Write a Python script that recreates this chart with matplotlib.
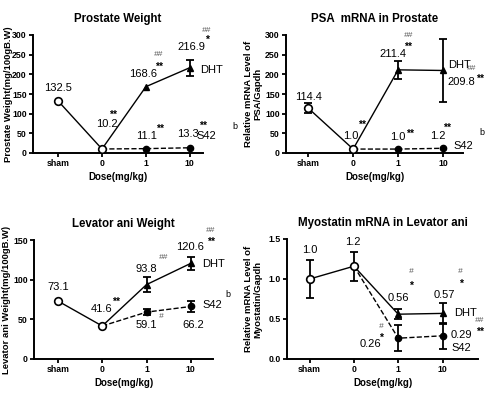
import numpy as np
import matplotlib
matplotlib.use('Agg')
import matplotlib.pyplot as plt

plt.rcParams['font.family'] = ['Liberation Sans', 'DejaVu Sans']

doses = ['sham', '0', '1', '10']

# Prostate weight (mg/100gB.W)
pw_ctrl = [132.5, 10.2]          # sham, vehicle
pw_ctrl_err = [0, 0]
pw_dht = [168.6, 216.9]          # 1, 10 mg/kg
pw_dht_err = [0, 20]
pw_s42 = [11.1, 13.3]
pw_s42_err = [0, 0]

# PSA mRNA in prostate
psa_ctrl = [114.4, 10]
psa_ctrl_err = [12, 0]
psa_dht = [211.4, 209.8]
psa_dht_err = [22, 80]
psa_s42 = [10, 12]
psa_s42_err = [0, 0]
psa_ctrl_lbl = ['114.4', '1.0']
psa_s42_lbl = ['1.0', '1.2']

# Levator ani weight
la_ctrl = [73.1, 41.6]
la_ctrl_err = [0, 0]
la_dht = [93.8, 120.6]
la_dht_err = [9, 8]
la_s42 = [59.1, 66.2]
la_s42_err = [4, 6.5]

# Myostatin mRNA in levator ani
my_ctrl = [1.0, 1.16]
my_ctrl_err = [0.24, 0.18]
my_dht = [0.56, 0.57]
my_dht_err = [0.06, 0.13]
my_s42 = [0.26, 0.29]
my_s42_err = [0.16, 0.16]
my_ctrl_lbl = ['1.0', '1.2']


def draw_panel(ax, ctrl, ctrl_err, dht, dht_err, s42, s42_err, title, ylabel, ylim, yticks, yfmt, ylab_x):
    x = np.arange(len(doses))
    # solid: sham -> vehicle -> DHT ; dashed: vehicle -> S42
    ax.plot(x, ctrl + dht, color='black', lw=1.0, zorder=2)
    ax.plot(x[1:], [ctrl[1]] + s42, color='black', lw=1.0, ls='--', zorder=2)
    for xs, ys, es in [(x[:2], ctrl, ctrl_err), (x[2:], dht, dht_err), (x[2:], s42, s42_err)]:
        es = np.array(es)
        m = es > 0
        if m.any():
            ax.errorbar(np.array(xs)[m], np.array(ys)[m], yerr=es[m], fmt='none',
                        ecolor='black', elinewidth=1.3, capsize=2.6, capthick=1.3, zorder=3)
    ax.plot(x[2:], dht, ls='none', marker='^', ms=4.5, color='black', zorder=4)
    ax.plot(x[2:], s42, ls='none', marker='o', ms=4.5, color='black', zorder=4)
    ax.plot(x[:2], ctrl, ls='none', marker='o', ms=5.5, mfc='white', mec='black', mew=1.2, zorder=5)

    ax.set_ylim(*ylim)
    ax.set_xticks(x)
    ax.set_xticklabels(doses)
    ax.set_yticks(yticks)
    ax.set_yticklabels([yfmt.format(v) for v in yticks])
    ax.spines['top'].set_visible(False)
    ax.spines['right'].set_visible(False)
    for s in ['left', 'bottom']:
        ax.spines[s].set_linewidth(1.4)
    ax.tick_params(width=1.3, length=3, labelsize=6.3, pad=1.5)
    for lab in ax.get_xticklabels() + ax.get_yticklabels():
        lab.set_fontweight('bold')
    ax.set_title(title, fontsize=8.3, fontweight='bold', pad=9.5)
    ax.set_xlabel('Dose(mg/kg)', fontsize=7, fontweight='bold', labelpad=3)
    ax.set_ylabel(ylabel, fontsize=6.8, fontweight='bold', linespacing=1.0)
    ax.yaxis.set_label_coords(ylab_x, 0.5)
    return {'sham': (0, ctrl[0]), 'veh': (1, ctrl[1]),
            'd1': (2, dht[0]), 'd10': (3, dht[1]),
            's1': (2, s42[0]), 's10': (3, s42[1])}


def note(ax, pts, items):
    # items: (text, anchor, dx px, dy px, kind)
    for txt, key, dx, dy, kind in items:
        kw = dict(xy=pts[key], xycoords='data', xytext=(dx, dy), textcoords='offset pixels',
                  va='center', ha='center', annotation_clip=False, zorder=6)
        if kind == 'num':
            kw.update(fontsize=8)
        elif kind in ('numL', 'name'):
            kw.update(fontsize=8, ha='left')
        elif kind == 'star':
            kw.update(fontsize=7.5, fontweight='bold')
            kw['xytext'] = (dx, dy - 2.5)
        elif kind == 'hash':
            kw.update(fontsize=6, color='#555555', style='italic')
        elif kind == 'b':
            kw.update(fontsize=6.5)
        ax.annotate(txt, **kw)


fig = plt.figure(figsize=(4.9, 3.95), dpi=100)

ax1 = fig.add_axes([33 / 490, 242 / 395, 170 / 490, 118 / 395])
ax1.set_xlim(-0.57, 3.30)
p1 = draw_panel(ax1, pw_ctrl, pw_ctrl_err, pw_dht, pw_dht_err, pw_s42, pw_s42_err,
                'Prostate Weight', 'Prostate Weight(mg/100gB.W)', (0, 300),
                [0, 50, 100, 150, 200, 250, 300], '{:g}', -0.12)
note(ax1, p1, [
    (f'{pw_ctrl[0]}', 'sham', 0, 13, 'num'),
    (f'{pw_ctrl[1]}', 'veh', 5, 25, 'num'),
    ('**', 'veh', 11, 37, 'star'),
    (f'{pw_dht[0]}', 'd1', -3, 13, 'num'),
    ('**', 'd1', 13, 22, 'star'),
    ('##', 'd1', 13, 32, 'hash'),
    (f'{pw_dht[1]}', 'd10', 2, 21, 'num'),
    ('*', 'd10', 17, 30, 'star'),
    ('##', 'd10', 17, 37, 'hash'),
    ('DHT', 'd10', 10, -2, 'name'),
    (f'{pw_s42[0]}', 's1', 1, 13, 'num'),
    ('**', 's1', 14, 22, 'star'),
    (f'{pw_s42[1]}', 's10', -2, 14, 'num'),
    ('**', 's10', 13, 24, 'star'),
    ('S42', 's10', 7, 12, 'name'),
    ('b', 's10', 45, 21, 'b'),
])

ax2 = fig.add_axes([286 / 490, 242 / 395, 177 / 490, 118 / 395])
ax2.set_xlim(-0.49, 3.44)
p2 = draw_panel(ax2, psa_ctrl, psa_ctrl_err, psa_dht, psa_dht_err, psa_s42, psa_s42_err,
                'PSA  mRNA in Prostate', 'Relative mRNA Level of\nPSA/Gapdh', (0, 300),
                [0, 50, 100, 150, 200, 250, 300], '{:g}', -0.135)
note(ax2, p2, [
    (psa_ctrl_lbl[0], 'sham', 0, 11.5, 'num'),
    (psa_ctrl_lbl[1], 'veh', -2, 13, 'num'),
    ('**', 'veh', 9, 27, 'star'),
    (f'{psa_dht[0]}', 'd1', -5, 16, 'num'),
    ('**', 'd1', 10, 26, 'star'),
    ('##', 'd1', 10, 34, 'hash'),
    ('DHT', 'd10', 5, 5, 'name'),
    ('##', 'd10', 28, 2, 'hash'),
    (f'{psa_dht[1]}', 'd10', 4, -12, 'numL'),
    ('**', 'd10', 37, -6, 'star'),
    (psa_s42_lbl[0], 's1', 0, 12, 'num'),
    ('**', 's1', 12, 18, 'star'),
    (psa_s42_lbl[1], 's10', -5, 12.5, 'num'),
    ('**', 's10', 4, 22.5, 'star'),
    ('S42', 's10', 10, 2.5, 'name'),
    ('b', 's10', 39, 16, 'b'),
])

ax3 = fig.add_axes([34 / 490, 36 / 395, 179 / 490, 119 / 395])
ax3.set_xlim(-0.54, 3.50)
p3 = draw_panel(ax3, la_ctrl, la_ctrl_err, la_dht, la_dht_err, la_s42, la_s42_err,
                'Levator ani Weight', 'Levator ani Weight(mg/100gB.W)', (0, 150),
                [0, 50, 100, 150], '{:g}', -0.13)
note(ax3, p3, [
    (f'{la_ctrl[0]}', 'sham', 0, 14, 'num'),
    (f'{la_ctrl[1]}', 'veh', -1, 17, 'num'),
    ('**', 'veh', 14, 27, 'star'),
    (f'{la_dht[0]}', 'd1', 0, 16, 'num'),
    ('##', 'd1', 17, 27, 'hash'),
    (f'{la_dht[1]}', 'd10', -1, 16, 'num'),
    ('**', 'd10', 20, 24, 'star'),
    ('##', 'd10', 20, 33, 'hash'),
    ('DHT', 'd10', 11, -0.5, 'name'),
    ('S42', 's10', 12, 1.5, 'name'),
    ('b', 's10', 37, 11.5, 'b'),
    (f'{la_s42[0]}', 's1', 0, -13, 'num'),
    ('#', 's1', 15, -4, 'hash'),
    (f'{la_s42[1]}', 's10', 2, -18.5, 'num'),
])

ax4 = fig.add_axes([287 / 490, 36 / 395, 191 / 490, 120 / 395])
ax4.set_xlim(-0.51, 3.80)
p4 = draw_panel(ax4, my_ctrl, my_ctrl_err, my_dht, my_dht_err, my_s42, my_s42_err,
                'Myostatin mRNA in Levator ani', 'Relative mRNA Level of\nMyostatin/Gapdh', (0, 1.5),
                [0, 0.5, 1.0, 1.5], '{:.1f}', -0.13)
note(ax4, p4, [
    (my_ctrl_lbl[0], 'sham', 0, 29, 'num'),
    (my_ctrl_lbl[1], 'veh', -1, 24.5, 'num'),
    (f'{my_dht[0]}', 'd1', 0, 16, 'num'),
    ('#', 'd1', 13, 42.5, 'hash'),
    ('*', 'd1', 13, 31, 'star'),
    (f'{my_dht[1]}', 'd10', 2, 18.4, 'num'),
    ('#', 'd10', 18, 41.7, 'hash'),
    ('*', 'd10', 18, 31.7, 'star'),
    ('DHT', 'd10', 12, 0, 'name'),
    ('##', 'd10', 37, -6.6, 'hash'),
    (f'{my_s42[1]}', 's10', 8.5, 1, 'numL'),
    ('**', 's10', 37, 6, 'star'),
    ('S42', 's10', 8.5, -12.5, 'name'),
    (f'{my_s42[0]}', 's1', -28, -6, 'num'),
    ('#', 's1', -17, 11.5, 'hash'),
    ('*', 's1', -17, 3, 'star'),
])

fig.savefig('out.png', dpi=100)
